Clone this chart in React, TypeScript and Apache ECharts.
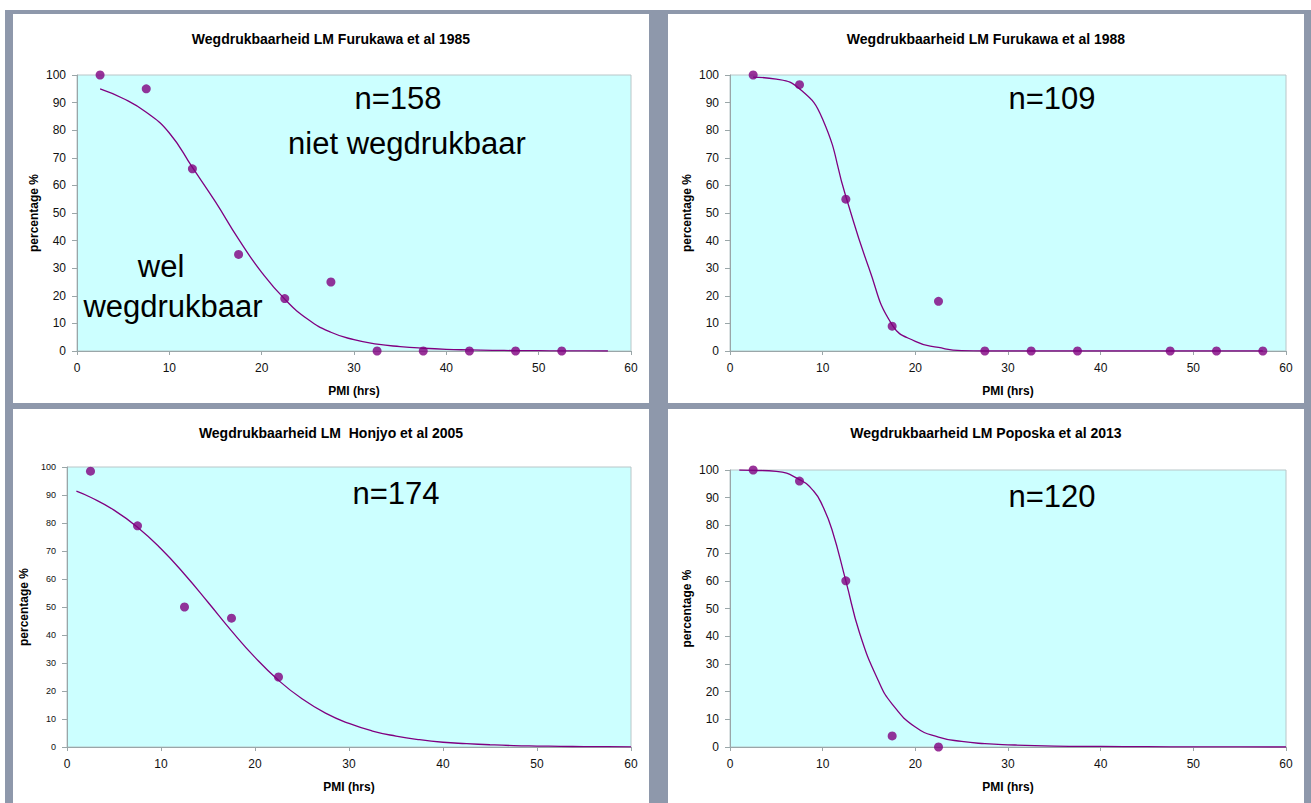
import React, { useEffect, useRef } from 'react';
import * as echarts from 'echarts';

const FONT = '"Liberation Sans", Arial, Helvetica, sans-serif';
const PURPLE = '#800080';

// Panel titles
const panelTitles = [
  'Wegdrukbaarheid LM Furukawa et al 1985',
  'Wegdrukbaarheid LM Furukawa et al 1988',
  'Wegdrukbaarheid LM  Honjyo et al 2005',
  'Wegdrukbaarheid LM Poposka et al 2013',
];

// Furukawa 1985
const obsX1985 = [2.5, 7.5, 12.5, 17.5, 22.5, 27.5, 32.5, 37.5, 42.5, 47.5, 52.5];
const obsY1985 = [100, 95, 66, 35, 19, 25, 0, 0, 0, 0, 0];
const fitX1985 = [2.5, 5, 7.5, 10, 12.5, 15, 17.5, 20, 22.5, 25, 27.5, 30, 32.5, 35, 37.5, 40, 42.5, 45, 47.5, 50, 52.5, 55, 57.5];
const fitY1985 = [95, 91.5, 86.5, 79, 66.5, 54, 40.5, 28.5, 18.8, 11.5, 6.8, 4.1, 2.5, 1.6, 1.0, 0.6, 0.4, 0.25, 0.15, 0.1, 0.05, 0.02, 0];

// Furukawa 1988
const obsX1988 = [2.5, 7.5, 12.5, 17.5, 22.5, 27.5, 32.5, 37.5, 47.5, 52.5, 57.5];
const obsY1988 = [100, 96.5, 55, 9, 18, 0, 0, 0, 0, 0, 0];
const fitX1988 = [2.5, 5, 7.5, 10, 12.5, 15, 17.5, 20, 22.5, 25, 27.5, 30, 32.5, 35, 37.5, 40, 42.5, 45, 47.5, 50, 52.5, 55, 57.5];
const fitY1988 = [99.2, 98.5, 95, 84, 56, 30, 9.5, 3.5, 1.3, 0.1, 0, 0, 0, 0, 0, 0, 0, 0, 0, 0, 0, 0, 0];

// Honjyo 2005
const obsX2005 = [2.5, 7.5, 12.5, 17.5, 22.5];
const obsY2005 = [98.5, 79, 50, 46, 25];
const fitX2005 = [1, 2.5, 5, 7.5, 10, 12.5, 15, 17.5, 20, 22.5, 25, 27.5, 30, 32.5, 35, 37.5, 40, 42.5, 45, 47.5, 50, 52.5, 55, 57.5, 60];
const fitY2005 = [91.4, 89.2, 84.6, 78.5, 70.8, 61.7, 51.7, 41.5, 32, 23.8, 17.2, 12.1, 8.4, 5.7, 3.9, 2.6, 1.7, 1.2, 0.8, 0.5, 0.34, 0.23, 0.15, 0.1, 0.07];

// Poposka 2013
const obsX2013 = [2.5, 7.5, 12.5, 17.5, 22.5];
const obsY2013 = [100, 96, 60, 4, 0];
const fitX2013 = [1, 2.5, 5, 7.5, 9, 10, 11, 12.5, 14, 16, 17.5, 20, 22.5, 25, 27.5, 30, 35, 40, 45, 50, 55, 60];
const fitY2013 = [100, 99.9, 99.5, 96.5, 92.5, 87, 78.5, 60, 41, 24, 15.5, 7.2, 3.6, 2, 1.2, 0.8, 0.35, 0.2, 0.1, 0.05, 0.02, 0];

const panels = [
  { obsX: obsX1985, obsY: obsY1985, fitX: fitX1985, fitY: fitY1985 },
  { obsX: obsX1988, obsY: obsY1988, fitX: fitX1988, fitY: fitY1988 },
  { obsX: obsX2005, obsY: obsY2005, fitX: fitX2005, fitY: fitY2005 },
  { obsX: obsX2013, obsY: obsY2013, fitX: fitX2013, fitY: fitY2013 },
];

// Layout (pixels)
const grids = [
  { left: 77, top: 75, width: 554, height: 276 },
  { left: 730, top: 75, width: 556, height: 276 },
  { left: 67, top: 467, width: 564, height: 280 },
  { left: 730, top: 470, width: 556, height: 277 },
];
const titlePos = [
  [331, 39],
  [986, 39],
  [331, 433],
  [986, 433],
];
const panelRects = [
  [13, 14, 636, 389],
  [668, 14, 636, 389],
  [13, 409, 636, 394],
  [668, 409, 636, 394],
];
const yLabelSize = [12, 12, 9, 12];

const annotations = [
  { text: 'n=158', x: 398, y: 98 },
  { text: 'niet wegdrukbaar', x: 407, y: 143 },
  { text: 'wel', x: 161, y: 266 },
  { text: 'wegdrukbaar', x: 173, y: 306 },
  { text: 'n=109', x: 1052, y: 98 },
  { text: 'n=174', x: 396, y: 493 },
  { text: 'n=120', x: 1052, y: 496 },
];

const zip = (xs: number[], ys: number[]) => xs.map((x, i) => [x, ys[i]]);

export default function App() {
  const ref = useRef<HTMLDivElement>(null);
  useEffect(() => {
    if (!ref.current) return;
    const chart = echarts.init(ref.current, null, { renderer: 'svg' });
    const axisColor = '#9aa6a8';
    const nameStyle = { fontWeight: 'bold', fontSize: 12, fontFamily: FONT, color: '#000' };

    const elements: any[] = [
      { type: 'rect', z: -10, shape: { x: 5, y: 10, width: 1306, height: 793 }, style: { fill: '#8e98ab' }, silent: true },
      ...panelRects.map((r) => ({
        type: 'rect', z: -9, shape: { x: r[0], y: r[1], width: r[2], height: r[3] }, style: { fill: '#ffffff' }, silent: true,
      })),
      ...panelTitles.map((t, i) => ({
        type: 'text', z: 10, x: titlePos[i][0], y: titlePos[i][1],
        style: { text: t, fill: '#000', font: `bold 14px ${FONT}`, align: 'center', verticalAlign: 'middle' },
      })),
      ...annotations.map((a) => ({
        type: 'text', z: 10, x: a.x, y: a.y,
        style: { text: a.text, fill: '#000', font: `31px ${FONT}`, align: 'center', verticalAlign: 'middle' },
      })),
    ];

    const option: any = {
      animation: false,
      backgroundColor: '#ffffff',
      graphic: { elements },
      grid: grids.map((g) => ({
        ...g, show: true, backgroundColor: '#ccffff', borderColor: '#b9c6c8', borderWidth: 1, containLabel: false,
      })),
      xAxis: grids.map((_, i) => ({
        gridIndex: i, type: 'value', min: 0, max: 60, interval: 10,
        name: 'PMI (hrs)', nameLocation: 'middle', nameGap: 34, nameTextStyle: nameStyle,
        axisLine: { show: true, lineStyle: { color: axisColor, width: 1 } },
        axisTick: { show: true, length: 4, lineStyle: { color: axisColor } },
        axisLabel: { fontSize: 12, color: '#111', fontFamily: FONT, margin: 11 },
        splitLine: { show: false },
      })),
      yAxis: grids.map((_, i) => ({
        gridIndex: i, type: 'value', min: 0, max: 100, interval: 10,
        name: 'percentage %', nameLocation: 'middle', nameGap: 37, nameTextStyle: nameStyle,
        axisLine: { show: true, lineStyle: { color: axisColor, width: 1 } },
        axisTick: { show: true, length: 5, lineStyle: { color: axisColor } },
        axisLabel: { fontSize: yLabelSize[i], color: '#111', fontFamily: FONT, margin: 11 },
        splitLine: { show: false },
      })),
      series: panels.flatMap((p, i) => [
        {
          type: 'line', xAxisIndex: i, yAxisIndex: i, data: zip(p.fitX, p.fitY),
          smooth: 0.5, symbol: 'none', showSymbol: false,
          lineStyle: { color: PURPLE, width: 1.3 }, z: 2,
        },
        {
          type: 'scatter', xAxisIndex: i, yAxisIndex: i, data: zip(p.obsX, p.obsY),
          symbol: 'circle', symbolSize: 9, itemStyle: { color: PURPLE }, z: 3, clip: false,
        },
      ]),
    };
    chart.setOption(option);
    return () => chart.dispose();
  }, []);
  return <div ref={ref} style={{ position: 'absolute', left: 0, top: 0, width: 1311, height: 803 }} />;
}
